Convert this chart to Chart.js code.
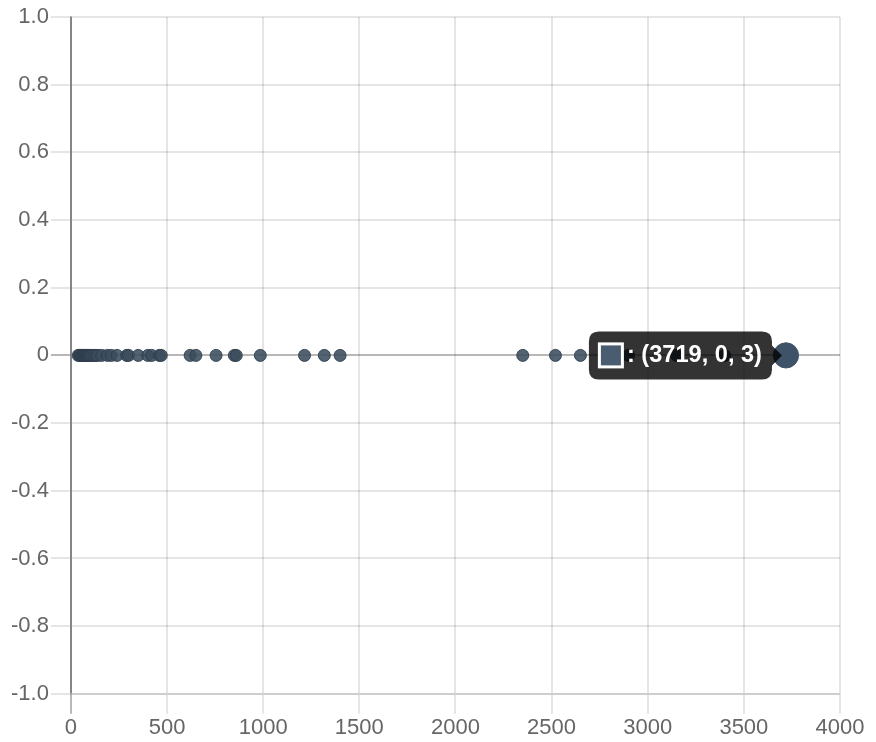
<!DOCTYPE html>
<html>
<head>
<meta charset="utf-8">
<script src="https://cdn.jsdelivr.net/npm/chart.js@4/dist/chart.umd.min.js"></script>
<style>
  html, body { margin: 0; padding: 0; background: #fff; overflow: hidden; }
  #wrap { position: absolute; left: 0; top: 0; width: 438px; height: 371px; transform: scale(2); transform-origin: 0 0; }
</style>
</head>
<body>
<div id="wrap"><canvas id="c" width="438" height="371"></canvas></div>
<script>
// ---- data ----
const xValues = [38, 45, 50, 55, 60, 65, 70, 75, 80, 85, 90, 95, 100, 110, 120, 130, 140, 160, 190, 210, 240, 290, 300, 350, 400, 420, 460, 470, 620, 650, 755, 850, 860, 985, 1215, 1318, 1400, 2350, 2520, 2650, 2900, 3150, 3400, 3719];
const yValues = xValues.map(() => 0);
const rValues = xValues.map(() => 3);
const xTicks = [0, 500, 1000, 1500, 2000, 2500, 3000, 3500, 4000];
const yTicks = [-1.0, -0.8, -0.6, -0.4, -0.2, 0, 0.2, 0.4, 0.6, 0.8, 1.0];
const activeIndex = xValues.indexOf(3719);

const points = xValues.map((x, i) => ({ x: x, y: yValues[i], r: rValues[i] }));

const gridColor = (ctx) => (ctx.tick && ctx.tick.value === 0) ? 'rgba(0,0,0,0.28)' : 'rgba(0,0,0,0.1)';
const fontFamily = "'Liberation Sans', Arial, Helvetica, sans-serif";

const chart = new Chart(document.getElementById('c'), {
  type: 'bubble',
  data: {
    datasets: [{
      label: '',
      data: points,
      backgroundColor: 'rgba(60,77,94,0.88)',
      borderColor: 'rgba(45,60,75,0.9)',
      borderWidth: 0.5,
      hoverBackgroundColor: '#3e5367',
      hoverBorderColor: '#3e5367',
      hoverRadius: 3.3,
      hoverBorderWidth: 0.5
    }]
  },
  options: {
    responsive: false,
    maintainAspectRatio: false,
    devicePixelRatio: 2,
    animation: false,
    events: [],
    layout: { padding: { left: 4.5, right: 18, top: 8.5, bottom: 0 } },
    plugins: {
      legend: { display: false },
      title: { display: false },
      tooltip: {
        enabled: true,
        backgroundColor: 'rgba(0,0,0,0.8)',
        bodyColor: '#fff',
        bodyFont: { family: fontFamily, size: 11.8, weight: 'bold', lineHeight: 1 },
        padding: { x: 5, y: 6 },
        cornerRadius: 5,
        caretSize: 5,
        caretPadding: 2,
        boxWidth: 12,
        boxHeight: 12,
        boxPadding: 0,
        displayColors: true,
        multiKeyBackground: '#fff',
        callbacks: {
          title: () => '',
          label: (ctx) => ': (' + xValues[ctx.dataIndex] + ', ' + yValues[ctx.dataIndex] + ', ' + rValues[ctx.dataIndex] + ')',
          labelColor: () => ({ borderColor: '#fff', backgroundColor: '#4a5d70', borderWidth: 1 })
        }
      }
    },
    scales: {
      x: {
        type: 'linear',
        min: xTicks[0],
        max: xTicks[xTicks.length - 1],
        afterBuildTicks: (axis) => { axis.ticks = xTicks.map(v => ({ value: v })); },
        grid: { color: gridColor, lineWidth: 1, tickLength: 10, drawTicks: true },
        border: { display: true, color: 'rgba(0,0,0,0.1)', width: 1 },
        ticks: { color: '#666', font: { family: fontFamily, size: 11, lineHeight: 1.1 }, padding: 1, maxRotation: 0,
                 callback: (v) => String(v) }
      },
      y: {
        type: 'linear',
        min: yTicks[0],
        max: yTicks[yTicks.length - 1],
        afterBuildTicks: (axis) => { axis.ticks = yTicks.map(v => ({ value: v })); },
        grid: { color: gridColor, lineWidth: 1, tickLength: 10, drawTicks: true },
        border: { display: true, color: 'rgba(0,0,0,0.28)', width: 1 },
        ticks: { color: '#666', font: { family: fontFamily, size: 11 }, padding: 1,
                 callback: (v) => Math.abs(v) < 1e-9 ? '0' : Number(v).toFixed(1) }
      }
    }
  }
});

const act = [{ datasetIndex: 0, index: activeIndex }];
chart.setActiveElements(act);
chart.update();
const el = chart.getDatasetMeta(0).data[activeIndex];
chart.tooltip.setActiveElements(act, { x: el.x, y: el.y });
chart.draw();
</script>
</body>
</html>
